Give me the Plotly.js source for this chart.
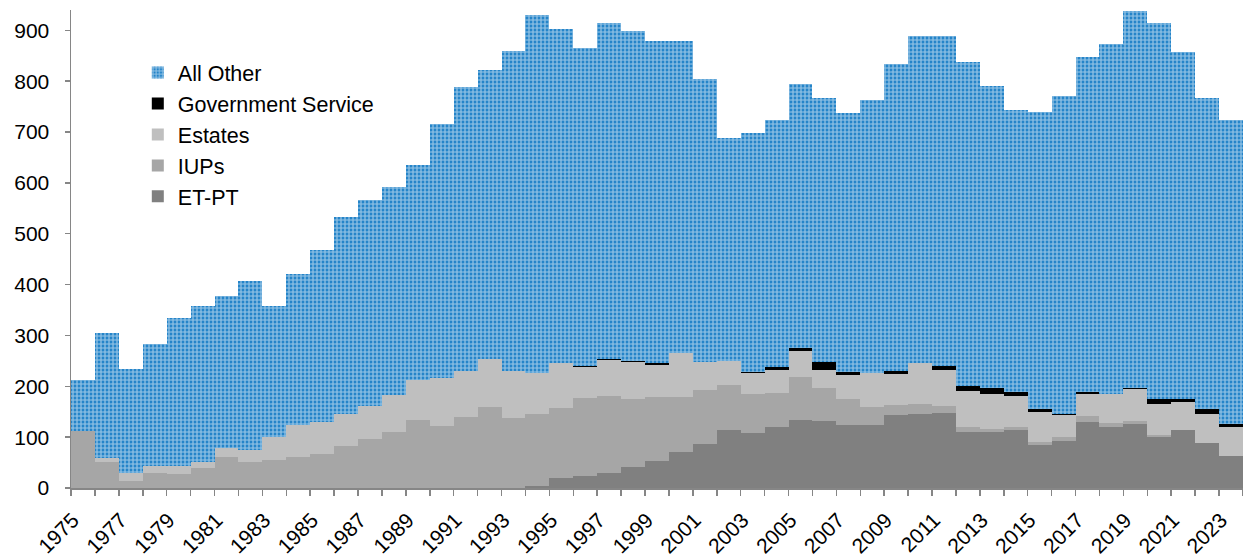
<!DOCTYPE html>
<html>
<head>
<meta charset="utf-8">
<script src="https://cdn.plot.ly/plotly-3.0.1.min.js"></script>
<style>
  html, body { margin: 0; padding: 0; background: #ffffff; }
  #chart { width: 1243px; height: 559px; }
</style>
</head>
<body>
<div id="chart"></div>
<script>
const years = [1975,1976,1977,1978,1979,1980,1981,1982,1983,1984,1985,1986,1987,1988,1989,1990,1991,1992,1993,1994,1995,1996,1997,1998,1999,2000,2001,2002,2003,2004,2005,2006,2007,2008,2009,2010,2011,2012,2013,2014,2015,2016,2017,2018,2019,2020,2021,2022,2023];

const etpt = [0,0,0,0,0,0,0,0,0,0,0,0,0,0,0,0,0,0,0,3,19,24,29,41,53,71,86,115,109,119,134,132,123,123,143,146,147,110,110,114,84,93,130,119,126,101,115,88,62];

const iups = [112,51,14,30,27,39,61,51,56,61,66,83,96,110,134,122,139,159,137,143,138,153,152,135,125,108,107,87,76,68,84,65,53,36,21,19,14,9,7,5,6,7,11,8,6,4,0,0,0];

const estates = [1,8,15,14,16,12,17,23,44,62,63,63,65,72,78,95,92,95,93,80,89,60,70,72,63,87,55,47,42,46,52,36,46,67,61,80,72,72,68,61,59,43,43,57,63,60,55,58,57];

const govService = [0,0,0,0,0,0,0,0,0,0,0,0,0,0,0,0,0,0,0,0,0,2,2,2,4,0,0,1,1,4,5,15,7,1,5,1,6,9,12,8,6,3,4,1,1,11,6,10,6];

const allOther = [100,246,206,240,292,306,300,334,258,297,340,386,405,410,423,499,557,568,630,704,656,626,661,649,635,614,557,438,470,486,519,518,508,536,603,643,650,638,594,556,585,625,659,688,742,738,682,610,598];

const seriesNames = ["ET-PT", "IUPs", "Estates", "Government Service", "All Other"];
const yTicks = [0,100,200,300,400,500,600,700,800,900];
const xLabelYears = years.filter(y => y % 2 === 1);

function bar(name, vals, marker) {
  return { type: "bar", name: name, x: years, y: vals, marker: marker, hoverinfo: "x+y+name" };
}

const traces = [
  bar(seriesNames[0], etpt, { color: "#808080", line: { width: 0 } }),
  bar(seriesNames[1], iups, { color: "#a6a6a6", line: { width: 0 } }),
  bar(seriesNames[2], estates, { color: "#bfbfbf", line: { width: 0 } }),
  bar(seriesNames[3], govService, { color: "#000000", line: { width: 0 } }),
  bar(seriesNames[4], allOther, {
    color: "#0070c0",
    line: { width: 0 },
    pattern: { shape: ".", fgcolor: "#ffffff", bgcolor: "#0070c0", size: 4, solidity: 0.72, fillmode: "overlay" }
  })
];

const FONT = "Liberation Sans, Arial, sans-serif";

const layout = {
  width: 1243,
  height: 559,
  margin: { l: 71, r: 0, t: 10, b: 71 },
  paper_bgcolor: "#ffffff",
  plot_bgcolor: "#ffffff",
  barmode: "stack",
  bargap: 0,
  showlegend: true,
  font: { family: FONT, size: 21, color: "#000000" },
  legend: {
    x: 0.057, y: 0.912, xanchor: "left", yanchor: "top",
    traceorder: "reversed",
    bgcolor: "rgba(0,0,0,0)",
    font: { family: FONT, size: 21.5, color: "#000000" },
    itemwidth: 30
  },
  xaxis: {
    type: "linear",
    range: [1974.5, 2023.5],
    tickmode: "array",
    tickvals: xLabelYears,
    ticktext: xLabelYears.map(String),
    ticks: "",
    tickangle: -45,
    tickfont: { family: FONT, size: 21 },
    ticklabelstandoff: 10,
    ticklabelshift: -10,
    showline: true,
    linecolor: "#868686",
    linewidth: 1.5,
    showgrid: false,
    zeroline: false,
    minor: { tick0: 1974.5, dtick: 1, ticks: "outside", ticklen: 6, tickcolor: "#868686", tickwidth: 1.5, showgrid: false }
  },
  yaxis: {
    range: [0, 940],
    tickmode: "array",
    tickvals: yTicks,
    ticks: "outside",
    ticklen: 5,
    tickcolor: "#868686",
    tickwidth: 1.5,
    tickfont: { family: FONT, size: 21 },
    ticklabelstandoff: 11,
    showline: true,
    linecolor: "#868686",
    linewidth: 1.5,
    showgrid: false,
    zeroline: false
  }
};

Plotly.newPlot("chart", traces, layout, { displayModeBar: false, staticPlot: true });
</script>
</body>
</html>
